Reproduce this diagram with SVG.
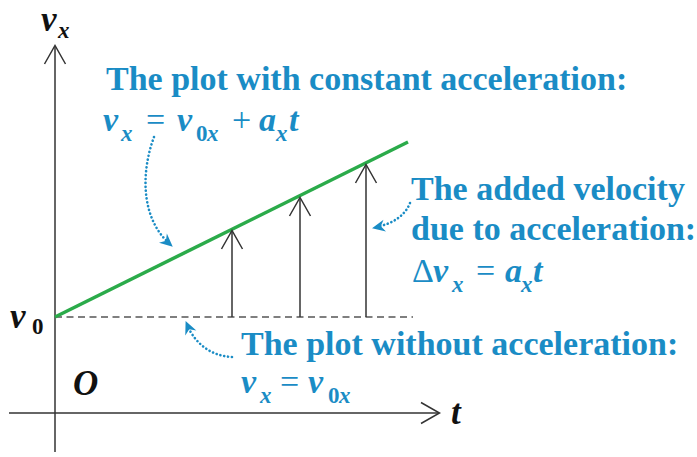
<svg xmlns="http://www.w3.org/2000/svg" width="697" height="457" viewBox="0 0 697 457">
<defs>
<path id="bh" d="M1,0 L-12,-6 L-8,0 L-12,6 Z"/>
</defs>

<g id="axes">
<g stroke="#333" stroke-width="1.5" fill="none">
<line x1="55" y1="452" x2="55" y2="46"/>
<polyline points="44.5,64 55,45.5 65.5,64"/>
<line x1="9" y1="413" x2="439" y2="413"/>
<polyline points="421,402.5 439.5,413 421,423.5"/>
</g>
<text font-family="Liberation Serif" font-weight="bold" fill="#111" font-size="35" font-style="italic" x="41" y="31">v</text>
<text font-family="Liberation Serif" font-weight="bold" fill="#111" font-size="23" font-style="italic" x="58" y="38">x</text>
<text font-family="Liberation Serif" font-weight="bold" fill="#111" font-size="35" font-style="italic" x="451" y="424">t</text>
<text font-family="Liberation Serif" font-weight="bold" fill="#111" font-size="35" font-style="italic" x="10" y="328">v</text>
<text font-family="Liberation Serif" font-weight="bold" fill="#111" font-size="23" x="32" y="334">0</text>
<text font-family="Liberation Serif" font-weight="bold" fill="#111" font-size="35" font-style="italic" x="73" y="395">O</text>
</g>

<g id="plots">
<line x1="55" y1="317" x2="413" y2="317" stroke="#555" stroke-width="1.3" stroke-dasharray="7 4.5"/>
<line x1="55" y1="317" x2="408" y2="142" stroke="#2bab4a" stroke-width="3.5"/>
</g>

<g id="connectors">
<g stroke="#333" stroke-width="1.5" fill="none">
<line x1="232" y1="317" x2="232" y2="231"/>
<polyline points="221.5,249 232,230.5 242.5,249"/>
<line x1="300" y1="317" x2="300" y2="198"/>
<polyline points="289.5,216 300,197.5 310.5,216"/>
<line x1="366" y1="317" x2="366" y2="165"/>
<polyline points="355.5,183 366,164.5 376.5,183"/>
</g>
<g stroke="#1a8cc5" stroke-width="2.6" fill="none" stroke-dasharray="0.1 3.8" stroke-linecap="round">
<path d="M154,137 C140,175 142,220 170,244"/>
<path d="M410,203 C405,216 392,224 376,227"/>
<path d="M232,357 C212,356 196,345 187,325"/>
</g>
<g fill="#1a8cc5">
<use href="#bh" transform="translate(172,246) rotate(40.9)"/>
<use href="#bh" transform="translate(373,228) rotate(168.1)"/>
<use href="#bh" transform="translate(186,322) rotate(-113.5)"/>
</g>
</g>

<g id="label-constant">
<text font-family="Liberation Serif" font-weight="bold" fill="#1a8cc5" font-size="34" x="106" y="90">The plot with constant acceleration:</text>
<text font-family="Liberation Serif" font-weight="bold" fill="#1a8cc5" font-size="34" font-style="italic" x="103" y="131">v</text>
<text font-family="Liberation Serif" font-weight="bold" fill="#1a8cc5" font-size="23" font-style="italic" x="121" y="141">x</text>
<text font-family="Liberation Serif" font-weight="normal" fill="#1a8cc5" font-size="34" x="146" y="131">=</text>
<text font-family="Liberation Serif" font-weight="bold" fill="#1a8cc5" font-size="34" font-style="italic" x="177" y="131">v</text>
<text font-family="Liberation Serif" font-weight="bold" fill="#1a8cc5" font-size="23" x="196" y="141">0</text>
<text font-family="Liberation Serif" font-weight="bold" fill="#1a8cc5" font-size="23" font-style="italic" x="207" y="141">x</text>
<text font-family="Liberation Serif" font-weight="normal" fill="#1a8cc5" font-size="34" x="232" y="131">+</text>
<text font-family="Liberation Serif" font-weight="bold" fill="#1a8cc5" font-size="34" font-style="italic" x="259" y="131">a</text>
<text font-family="Liberation Serif" font-weight="bold" fill="#1a8cc5" font-size="23" font-style="italic" x="276" y="141">x</text>
<text font-family="Liberation Serif" font-weight="bold" fill="#1a8cc5" font-size="34" font-style="italic" x="289" y="131">t</text>
</g>

<g id="label-added">
<text font-family="Liberation Serif" font-weight="bold" fill="#1a8cc5" font-size="34" x="411" y="200">The added velocity</text>
<text font-family="Liberation Serif" font-weight="bold" fill="#1a8cc5" font-size="34" x="411" y="240">due to acceleration:</text>
<text font-family="Liberation Serif" font-weight="normal" fill="#1a8cc5" font-size="34" x="412" y="282">&#916;</text>
<text font-family="Liberation Serif" font-weight="bold" fill="#1a8cc5" font-size="34" font-style="italic" x="433" y="282">v</text>
<text font-family="Liberation Serif" font-weight="bold" fill="#1a8cc5" font-size="23" font-style="italic" x="452" y="292">x</text>
<text font-family="Liberation Serif" font-weight="normal" fill="#1a8cc5" font-size="34" x="476" y="282">=</text>
<text font-family="Liberation Serif" font-weight="bold" fill="#1a8cc5" font-size="34" font-style="italic" x="505" y="282">a</text>
<text font-family="Liberation Serif" font-weight="bold" fill="#1a8cc5" font-size="23" font-style="italic" x="521" y="292">x</text>
<text font-family="Liberation Serif" font-weight="bold" fill="#1a8cc5" font-size="34" font-style="italic" x="533" y="282">t</text>
</g>

<g id="label-without">
<text font-family="Liberation Serif" font-weight="bold" fill="#1a8cc5" font-size="34" x="241" y="355">The plot without acceleration:</text>
<text font-family="Liberation Serif" font-weight="bold" fill="#1a8cc5" font-size="34" font-style="italic" x="241" y="393">v</text>
<text font-family="Liberation Serif" font-weight="bold" fill="#1a8cc5" font-size="23" font-style="italic" x="260" y="403">x</text>
<text font-family="Liberation Serif" font-weight="normal" fill="#1a8cc5" font-size="34" x="280" y="393">=</text>
<text font-family="Liberation Serif" font-weight="bold" fill="#1a8cc5" font-size="34" font-style="italic" x="308" y="393">v</text>
<text font-family="Liberation Serif" font-weight="bold" fill="#1a8cc5" font-size="23" x="328" y="403">0</text>
<text font-family="Liberation Serif" font-weight="bold" fill="#1a8cc5" font-size="23" font-style="italic" x="339" y="403">x</text>
</g>
</svg>
